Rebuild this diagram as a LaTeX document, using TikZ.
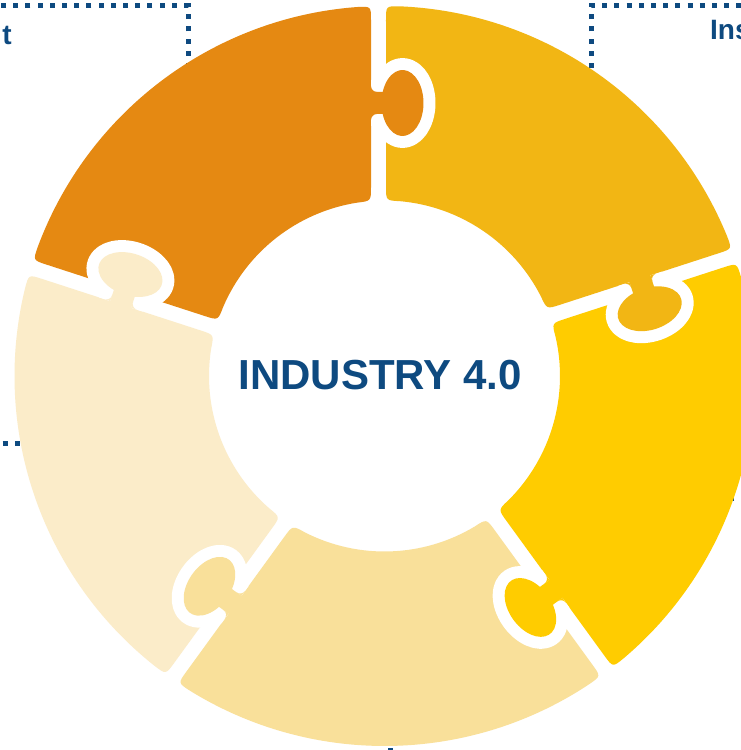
\documentclass[tikz,border=0pt]{standalone}
\usepackage{fontspec}
\setmainfont{Liberation Sans}
\usetikzlibrary{calc}
\definecolor{cA}{HTML}{E58912}
\definecolor{cB}{HTML}{F2B614}
\definecolor{cC}{HTML}{FFCC00}
\definecolor{cD}{HTML}{F9E09A}
\definecolor{cE}{HTML}{FBECC9}
\definecolor{dblue}{RGB}{14,74,128}
\tikzset{
  dotline/.style={draw=dblue, line width=5pt, dash pattern=on 5pt off 7.2pt},
  bigtitle/.style={text=dblue, inner sep=0pt, font=\bfseries\fontsize{42}{42}\selectfont},
  sidetitle/.style={text=dblue, inner sep=0pt, font=\bfseries\fontsize{28}{28}\selectfont}
}
\newcommand\ringpiece[2]{%
  \begin{scope}[shift={(384.5,374)}, rotate=#1]
    \fill[#2] (188.98,13.5) -- (355.75,13.5) .. controls (369.75,13.5) .. (4.259:370)
      arc[start angle=4.259, end angle=69.6, radius=370]
      .. controls (71.768:370) .. ($(71.768:370)+(252:14)$)
      -- ($(71.51:175.5)+(72:14)$) .. controls (71.51:175.5) .. (66.939:175.5)
      arc[start angle=66.939, end angle=8.983, radius=175.5]
      .. controls (4.412:175.5) .. (188.98,13.5) -- cycle;
  \end{scope}}
\newcommand\ringknob[2]{%
  \begin{scope}[shift={(384.5,374)}, rotate=#1]
    \draw[white, line width=24pt, line join=round] (262,13.5) -- (262,1.8)
      arc[start angle=109.47, end angle=430.53, x radius=33, y radius=21] -- (284,13.5);
    \fill[white] (244,-1.5) -- (250,-1.5) -- (250,-7.5) arc[start angle=0, end angle=90, radius=6] -- cycle;
    \fill[white] (302,-1.5) -- (296,-1.5) -- (296,-7.5) arc[start angle=180, end angle=90, radius=6] -- cycle;
    \fill[#2] (262,16) -- (262,1.8)
      arc[start angle=109.47, end angle=430.53, x radius=33, y radius=21] -- (284,16) -- cycle;
    \fill[#2] (256,13.5) -- (262,13.5) -- (262,7.5) arc[start angle=0, end angle=90, radius=6] -- cycle;
    \fill[#2] (290,13.5) -- (284,13.5) -- (284,7.5) arc[start angle=180, end angle=90, radius=6] -- cycle;
  \end{scope}}
\begin{document}
\begin{tikzpicture}[x=1pt,y=1pt]
  \clip (0,0) rectangle (741,750);
  \fill[white] (0,0) rectangle (741,750);
  % dotted frames behind the ring
  \draw[dotline] (188,560) -- (188,744) -- (-20,744);
  \draw[dotline] (591,560) -- (591,744) -- (760,744);
  \draw[dotline] (2.7,306) -- (140,306);
  \draw[dotline] (734,251) -- (600,251);
  \draw[dotline] (390,1.5) -- (390,-60);
  % labels of the frames
  \node[sidetitle, anchor=base east] (tlabel) at (12,705) {t};
  \node[sidetitle, anchor=base west] (inslabel) at (710,710) {Ins};
  % puzzle ring
  \ringpiece{90}{cA}
  \ringpiece{18}{cB}
  \ringpiece{-54}{cC}
  \ringpiece{-126}{cD}
  \ringpiece{162}{cE}
  \ringknob{90}{cA}
  \ringknob{18}{cB}
  \ringknob{-54}{cC}
  \ringknob{-126}{cD}
  \ringknob{162}{cE}
  \node[bigtitle] (title) at (380,375) {INDUSTRY 4.0};
\end{tikzpicture}
\end{document}
